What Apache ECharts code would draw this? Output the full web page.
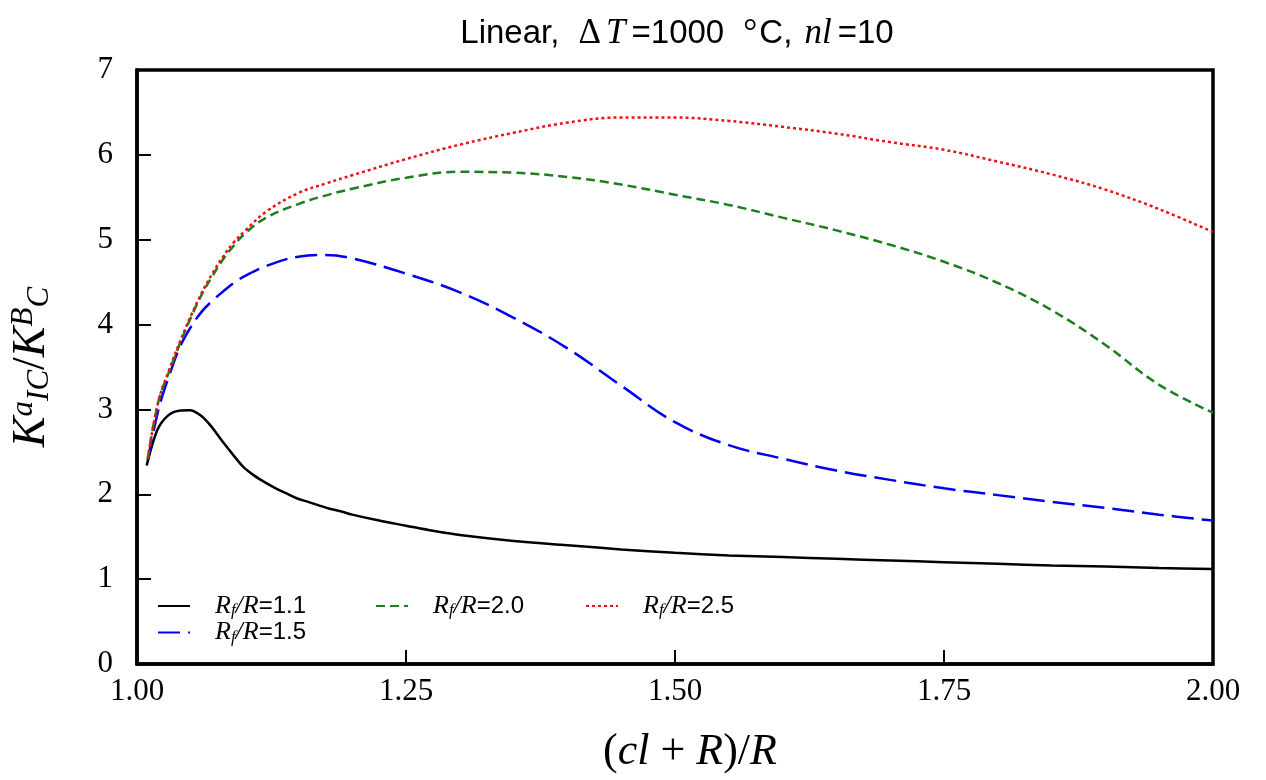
<!DOCTYPE html>
<html><head><meta charset="utf-8">
<script src="https://cdn.jsdelivr.net/npm/echarts@6/dist/echarts.min.js"></script>
<style>html,body{margin:0;padding:0;background:#fff}#c{width:1266px;height:780px}</style>
</head><body><div id="c"></div>
<script>
// x values (cl+R)/R
const xBlack = [1.009,1.019,1.029,1.039,1.049,1.059,1.069,1.079,1.089,1.099,1.109,1.119,1.129,1.139,1.149,1.159,1.169,1.179,1.189,1.20,1.225,1.25,1.275,1.30,1.35,1.40,1.45,1.50,1.55,1.60,1.65,1.70,1.75,1.80,1.85,1.90,1.95,2.00];
const rf11   = [2.34,2.76,2.93,2.985,2.99,2.93,2.80,2.63,2.47,2.32,2.22,2.14,2.07,2.01,1.95,1.91,1.87,1.83,1.80,1.76,1.69,1.63,1.57,1.52,1.45,1.40,1.35,1.31,1.28,1.26,1.24,1.22,1.20,1.18,1.16,1.15,1.13,1.12];
const xGrid = [1.01,1.02,1.03,1.04,1.05,1.06,1.07,1.08,1.09,1.10,1.12,1.15,1.175,1.20,1.25,1.30,1.35,1.40,1.45,1.50,1.55,1.60,1.65,1.70,1.75,1.80,1.85,1.90,1.95,2.00];
const rf15 = [2.40,3.00,3.40,3.74,3.97,4.15,4.28,4.39,4.49,4.57,4.69,4.80,4.82,4.78,4.60,4.38,4.08,3.72,3.28,2.85,2.58,2.42,2.28,2.17,2.07,1.99,1.91,1.84,1.76,1.69];
const rf20 = [2.42,3.10,3.45,3.78,4.08,4.35,4.57,4.77,4.93,5.07,5.26,5.42,5.52,5.60,5.73,5.80,5.79,5.74,5.65,5.53,5.41,5.26,5.11,4.94,4.74,4.49,4.17,3.76,3.29,2.96];
const rf25 = [2.42,3.10,3.47,3.80,4.10,4.37,4.60,4.80,4.97,5.10,5.33,5.55,5.66,5.76,5.95,6.12,6.26,6.38,6.44,6.44,6.40,6.33,6.25,6.15,6.06,5.92,5.77,5.59,5.36,5.09];
const seriesNames = ['1.1','1.5','2.0','2.5'];
const xTicks = [1.00,1.25,1.50,1.75,2.00];
const yTicks = [0,1,2,3,4,5,6,7];

const pairs = (xs, ys) => xs.map((x,i)=>[x, ys[i]]);
const serif = 'Liberation Serif';
const legRich = {
  i:{fontFamily:serif,fontStyle:'italic',fontSize:26,color:'#000'},
  s:{fontFamily:serif,fontStyle:'italic',fontSize:17,color:'#000',verticalAlign:'bottom',padding:[10,0,0,0]},
  n:{fontFamily:'Liberation Sans',fontSize:24,color:'#000'}
};
const legFmt = n => '{i|R}{s|f}{i|/R}{n|=' + n + '}';
const legendBase = {orient:'vertical',itemWidth:32,itemHeight:12,itemGap:0,formatter:legFmt,
  itemStyle:{opacity:0},textStyle:{rich:legRich,padding:[0,0,0,20]}};

const chart = echarts.init(document.getElementById('c'));
chart.setOption({
  backgroundColor:'#fff',
  animation:false,
  title:{
    text:'{a|Linear, }{d|Δ}{b|T}{a|=1000 }{d|°}{a|C, }{b|nl}{a|=10}',
    left:672, top:11, textAlign:'center',
    textStyle:{fontWeight:'normal',rich:{
      a:{fontFamily:'Liberation Sans',fontWeight:'normal',fontSize:33,color:'#000'},
      d:{fontFamily:serif,fontWeight:'normal',fontSize:35,color:'#000',padding:[0,2,0,10]},
      b:{fontFamily:serif,fontStyle:'italic',fontWeight:'normal',fontSize:35,color:'#000',padding:[0,6,0,3]}
    }}
  },
  grid:{left:135,right:53,top:70,bottom:116,show:true,borderColor:'#000',borderWidth:3.5},
  legend:[
    Object.assign({},legendBase,{data:['1.1','1.5'],left:152,top:588}),
    Object.assign({},legendBase,{data:['2.0'],left:370,top:588}),
    Object.assign({},legendBase,{data:['2.5'],left:580,top:588})
  ],
  xAxis:{
    type:'value',min:1.0,max:2.0,interval:0.25,
    name:'{p|(}{i|cl}{p| + }{i|R}{p|)/}{i|R}',nameLocation:'middle',nameGap:66,
    nameTextStyle:{padding:[0,0,0,30],rich:{p:{fontFamily:serif,fontSize:44,color:'#000'},i:{fontFamily:serif,fontStyle:'italic',fontSize:44,color:'#000'}}},
    axisLine:{show:true,lineStyle:{color:'#000',width:3.5}},
    axisTick:{show:true,inside:true,length:14,lineStyle:{color:'#000',width:2}},
    splitLine:{show:false},
    axisLabel:{margin:12,fontFamily:serif,fontSize:31,color:'#000',formatter:v=>v.toFixed(2)}
  },
  yAxis:{
    type:'value',min:0,max:7,interval:1,
    name:'{i|K}{sp|a}{sb|IC}{p|/}{i|K}{sp|B}{sb|C}',nameLocation:'middle',nameGap:82,nameRotate:90,
    nameTextStyle:{rich:{
      i:{fontFamily:serif,fontStyle:'italic',fontSize:46,color:'#000'},
      p:{fontFamily:serif,fontSize:46,color:'#000'},
      sp:{fontFamily:serif,fontStyle:'italic',fontSize:31,color:'#000',verticalAlign:'top',padding:[0,0,16,0]},
      sb:{fontFamily:serif,fontStyle:'italic',fontSize:31,color:'#000',verticalAlign:'bottom',padding:[16,0,0,0]}
    }},
    axisLine:{show:true,lineStyle:{color:'#000',width:3.5}},
    axisTick:{show:true,inside:true,length:14,lineStyle:{color:'#000',width:2}},
    splitLine:{show:false},
    axisLabel:{margin:24,fontFamily:serif,fontSize:31,color:'#000'}
  },
  series:[
    {name:'1.1',type:'line',data:pairs(xBlack,rf11),smooth:0.3,symbol:'none',lineStyle:{color:'#000000',width:2.5,type:'solid'},itemStyle:{color:'#000'}},
    {name:'1.5',type:'line',data:pairs(xGrid,rf15),smooth:0.4,symbol:'none',lineStyle:{color:'#0000ee',width:2.5,type:[22,8]},itemStyle:{color:'#0000ee'}},
    {name:'2.0',type:'line',data:pairs(xGrid,rf20),smooth:0.4,symbol:'none',lineStyle:{color:'#1e7f1e',width:2.5,type:[9,5]},itemStyle:{color:'#1e7f1e'}},
    {name:'2.5',type:'line',data:pairs(xGrid,rf25),smooth:0.4,symbol:'none',lineStyle:{color:'#ee1111',width:2.5,type:[3,3]},itemStyle:{color:'#ee1111'}}
  ]
});
</script></body></html>
